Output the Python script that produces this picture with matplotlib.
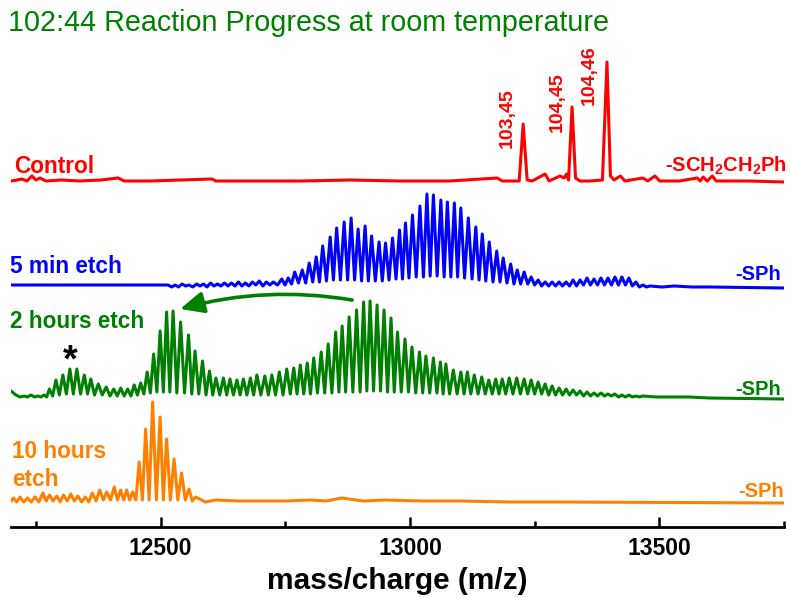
import matplotlib
matplotlib.use('Agg')
import matplotlib.pyplot as plt
from matplotlib.patches import FancyArrowPatch
import numpy as np

plt.rcParams['font.family'] = ['Liberation Sans', 'DejaVu Sans']
plt.rcParams['mathtext.fontset'] = 'custom'
plt.rcParams['mathtext.rm'] = 'Liberation Sans:bold'
plt.rcParams['mathtext.bf'] = 'Liberation Sans:bold'

# ---------------- data (m/z, intensity above each trace's baseline) ----------------
# Control (red): digitized vertices
red_mz = [12200, 12212, 12222, 12232, 12242, 12250, 12258, 12270, 12300, 12338, 12380, 12415, 12427,
          12480, 12540, 12603, 12611, 12680, 12780, 12880, 12980, 13080, 13175, 13185, 13219, 13227,
          13235, 13245, 13271, 13279, 13301, 13309, 13314, 13318, 13325, 13332, 13341, 13361, 13386,
          13395, 13402, 13409, 13422, 13431, 13467, 13477, 13491, 13501, 13540, 13576, 13582, 13588,
          13596, 13606, 13614, 13680, 13750]
red_int = [1, 2, 3, 1, 6, 2, 4, 1, 2, 1, 2, 4, 1,
           1, 2, 3, 1, 1, 1, 2, 1, 1, 4, 1, 1, 58,
           2, 1, 8, 1, 6, 4, 8, 2, 75, 4, 1, 1, 2,
           120, 6, 2, 6, 1, 4, 1, 6, 1, 1, 4, 1, 5,
           1, 6, 1, 1, 0]
red_labels = ["103,45", "104,45", "104,46"]

# 5 min etch (blue): peak positions, peak heights, valley after each peak
blue_mz = [12515, 12529, 12543, 12557, 12572, 12586, 12600, 12614, 12628, 12642, 12656, 12670, 12684, 12698, 12712,
           12726, 12743, 12756, 12769, 12784, 12798, 12812, 12825, 12840, 12853, 12868, 12882, 12896, 12910, 12923,
           12938, 12951, 12965, 12979,
           12991, 13005, 13020, 13034, 13047, 13062, 13075, 13089, 13102, 13117, 13132, 13145, 13159, 13174, 13187,
           13202, 13215, 13229,
           13243, 13257, 13271, 13285, 13299, 13313, 13327, 13341, 13355, 13369, 13383, 13397, 13411, 13425, 13439,
           13453, 13467, 13481, 13530, 13600]
blue_int = [2, 2, 3, 2, 3, 3, 4, 3, 4, 4, 5, 4, 5, 6, 5,
            5, 8, 9, 15, 17, 24, 30, 41, 50, 59, 65, 69, 58, 61, 51, 45, 44, 49, 57,
            64, 72, 81, 93, 92, 87, 85, 84, 79, 69, 60, 53, 45, 36, 29, 23, 17, 15,
            10, 7, 5, 5, 5, 5, 7, 7, 9, 8, 9, 9, 10, 10, 9, 5, 2, 1, 1, 0]
blue_valley = [0, 0, 1, 0, 1, 0, 1, 1, 1, 1, 1, 1, 2, 1, 2,
               2, 2, 3, 4, 4, 5, 5, 6, 7, 7, 7, 7, 6, 6, 6, 6, 7, 8, 8,
               9, 10, 10, 11, 11, 10, 10, 10, 9, 8, 7, 6, 5, 5, 4, 3, 3, 3,
               2, 1, 1, 1, 1, 1, 1, 2, 2, 2, 2, 2, 2, 2, 1, 0, 0, 0, 0, 0]
blue_ends = [2, -1]

# 2 hours etch (green)
green_mz = [12210, 12226, 12240, 12254, 12266,
            12277, 12290, 12304, 12318, 12332, 12347, 12360, 12375, 12391, 12406, 12420, 12434, 12447, 12460,
            12473, 12486, 12499, 12512, 12525, 12540, 12556, 12569, 12584, 12598, 12611, 12626, 12639, 12653,
            12666, 12680, 12693,
            12709, 12723, 12738, 12753, 12767, 12780, 12794, 12807, 12822, 12836, 12851, 12864, 12878, 12893,
            12907, 12920, 12934, 12948, 12962, 12975, 12990, 13004, 13019, 13032, 13047, 13061, 13072, 13087,
            13102, 13115, 13129, 13144, 13158, 13172, 13185, 13199, 13214,
            13229, 13243, 13257, 13271, 13285, 13299, 13313, 13327, 13341, 13355, 13369, 13383, 13397, 13411,
            13425, 13439, 13453, 13467, 13520, 13600]
green_int = [2, 1, 2, 1, 2,
             8, 17, 22, 28, 28, 22, 18, 13, 10, 8, 9, 8, 12, 14,
             25, 43, 66, 85, 86, 75, 62, 46, 36, 26, 19, 19, 18, 17, 18, 19, 22,
             21, 22, 25, 28, 29, 32, 34, 39, 45, 53, 65, 71, 80, 87, 95, 96, 92, 87, 79, 65, 58, 50, 45, 41,
             39, 35, 33, 27, 25, 25, 22, 20, 17, 18, 18, 19, 19,
             18, 17, 15, 13, 11, 9, 8, 7, 6, 5, 4, 4, 3, 3, 2, 2, 1, 1, 0, -1]
green_valley = [0, 0, 0, 0, 0,
                1, 2, 3, 3, 3, 3, 2, 2, 1, 1, 1, 1, 2, 3,
                4, 5, 5, 5, 4, 4, 3, 3, 2, 2, 2, 2, 2, 2, 2, 2, 2,
                2, 2, 2, 3, 3, 3, 3, 4, 4, 4, 5, 5, 5, 5, 6, 6, 6, 5, 5, 5, 5, 4, 4, 4, 4,
                3, 3, 3, 3, 3, 3, 3, 3, 3, 3, 3, 3,
                3, 3, 3, 2, 2, 2, 2, 2, 1, 1, 1, 1, 1, 0, 0, 0, 0, 0, 0, -1]
green_ends = [6, -2]

# 10 hours etch (orange)
orange_mz = [12205, 12218, 12233, 12248, 12264, 12277, 12292, 12305, 12320, 12334, 12349, 12363, 12378, 12392,
             12407, 12420, 12432, 12444, 12457, 12470, 12484, 12499, 12512, 12527, 12542, 12557, 12570,
             12610, 12700, 12800, 12863, 12950, 13100, 13300]
orange_int = [4, 5, 4, 5, 9, 7, 6, 7, 8, 6, 5, 9, 12, 10,
              15, 12, 12, 10, 40, 73, 100, 85, 63, 43, 29, 13, 5,
              2, 1, 2, 4, 2, 1, 0]
orange_valley = [0, 0, 0, 0, 1, 1, 0, 1, 1, 0, 0, 1, 2, 2,
                 2, 2, 2, 2, 2, 2, 2, 2, 2, 2, 2, 1, 0,
                 1, 1, 1, 1, 1, 0, 0]
orange_ends = [1, -1]

x_min, x_max = 12200, 13750
major_ticks = [12500, 13000, 13500]
minor_ticks = [12250, 12750, 13250, 13750]

# ---------------- layout ----------------
W, H = 790, 598
RED, BLUE, GREEN, ORANGE = '#ff0000', '#0000ff', '#008000', '#ff8000'
offsets = {'red': 345, 'blue': 240, 'green': 130, 'orange': 25}


def fx(px):
    return px / W


def fy(py):
    return 1 - py / H


def build(mz, ints, valleys, ends):
    xs = [x_min]
    ys = [ends[0]]
    for i, (m, h, v) in enumerate(zip(mz, ints, valleys)):
        xs.append(m)
        ys.append(h)
        if i + 1 < len(mz):
            xs.append((m + mz[i + 1]) / 2)
            ys.append(v)
    xs.append(x_max)
    ys.append(ends[1])
    return np.array(xs, float), np.array(ys, float)


fig = plt.figure(figsize=(W / 100, H / 100), dpi=100)
ax = fig.add_axes([fx(11), fy(527), 773 / W, 527 / H])

lw = 2.2
ax.plot(red_mz, np.array(red_int) + offsets['red'], color=RED, lw=lw, solid_joinstyle='round')
bx, by = build(blue_mz, blue_int, blue_valley, blue_ends)
ax.plot(bx, by + offsets['blue'], color=BLUE, lw=lw, solid_joinstyle='round')
gx, gy = build(green_mz, green_int, green_valley, green_ends)
ax.plot(gx, gy + offsets['green'], color=GREEN, lw=lw, solid_joinstyle='round')
ox, oy = build(orange_mz, orange_int, orange_valley, orange_ends)
ax.plot(ox, oy + offsets['orange'], color=ORANGE, lw=lw, solid_joinstyle='round')

ax.set_xlim(x_min, x_max)
ax.set_ylim(0, 527)
for s in ['left', 'right', 'top']:
    ax.spines[s].set_visible(False)
ax.spines['bottom'].set_linewidth(2.0)
ax.set_yticks([])
ax.set_xticks(major_ticks)
ax.set_xticks(minor_ticks, minor=True)
ax.tick_params(axis='x', which='major', direction='in', length=7, width=1.8, pad=7,
               labelsize=16.5)
ax.tick_params(axis='x', which='minor', direction='in', length=4, width=1.8)
for lab in ax.get_xticklabels():
    lab.set_fontweight('bold')
ax.set_xlabel('mass/charge (m/z)', fontsize=21.5, fontweight='bold')
ax.xaxis.set_label_coords(0.5, -(589 - 527) / 527)
ax.xaxis.label.set_va('baseline')

# title
fig.text(fx(8), fy(31), '102:44 Reaction Progress at room temperature', color=GREEN,
         fontsize=20.7, va='baseline', ha='left')

# left labels
lab_kw = dict(fontsize=16.3, fontweight='bold', va='baseline', ha='left')
fig.text(fx(14), fy(173), 'Control', color=RED, **lab_kw)
fig.text(fx(10), fy(273), '5 min etch', color=BLUE, **lab_kw)
fig.text(fx(10), fy(328), '2 hours etch', color=GREEN, **lab_kw)
fig.text(fx(12), fy(458), '10 hours', color=ORANGE, **lab_kw)
fig.text(fx(12), fy(486), 'etch', color=ORANGE, **lab_kw)

# right labels
r_kw = dict(fontsize=14.5, fontweight='bold', va='baseline', ha='right')
fig.text(fx(787), fy(172), r'-SCH$_\mathbf{2}$CH$_\mathbf{2}$Ph', color=RED, **r_kw)
fig.text(fx(781), fy(280), '-SPh', color=BLUE, **r_kw)
fig.text(fx(781), fy(395), '-SPh', color=GREEN, **r_kw)
fig.text(fx(784), fy(497), '-SPh', color=ORANGE, **r_kw)

# peak labels
for txt, (px, pb) in zip(red_labels, [(507, 148), (557, 132), (589, 105)]):
    fig.text(fx(px), fy(pb), txt, color=RED, fontsize=14, fontweight='bold', rotation=90,
             ha='center', va='bottom')

# star
fig.text(fx(70), fy(371), '*', color='black', fontsize=27, fontweight='bold', ha='center',
         va='baseline')

# arrow (from big hump to new cluster) in data coordinates
arrow = FancyArrowPatch((12884, 227), (12539, 218), connectionstyle='arc3,rad=0.11',
                        arrowstyle='-|>,head_length=1.1,head_width=0.5', mutation_scale=13,
                        color=GREEN, lw=2.6, shrinkA=0, shrinkB=0)
ax.add_patch(arrow)

fig.savefig('out.png', dpi=100)
